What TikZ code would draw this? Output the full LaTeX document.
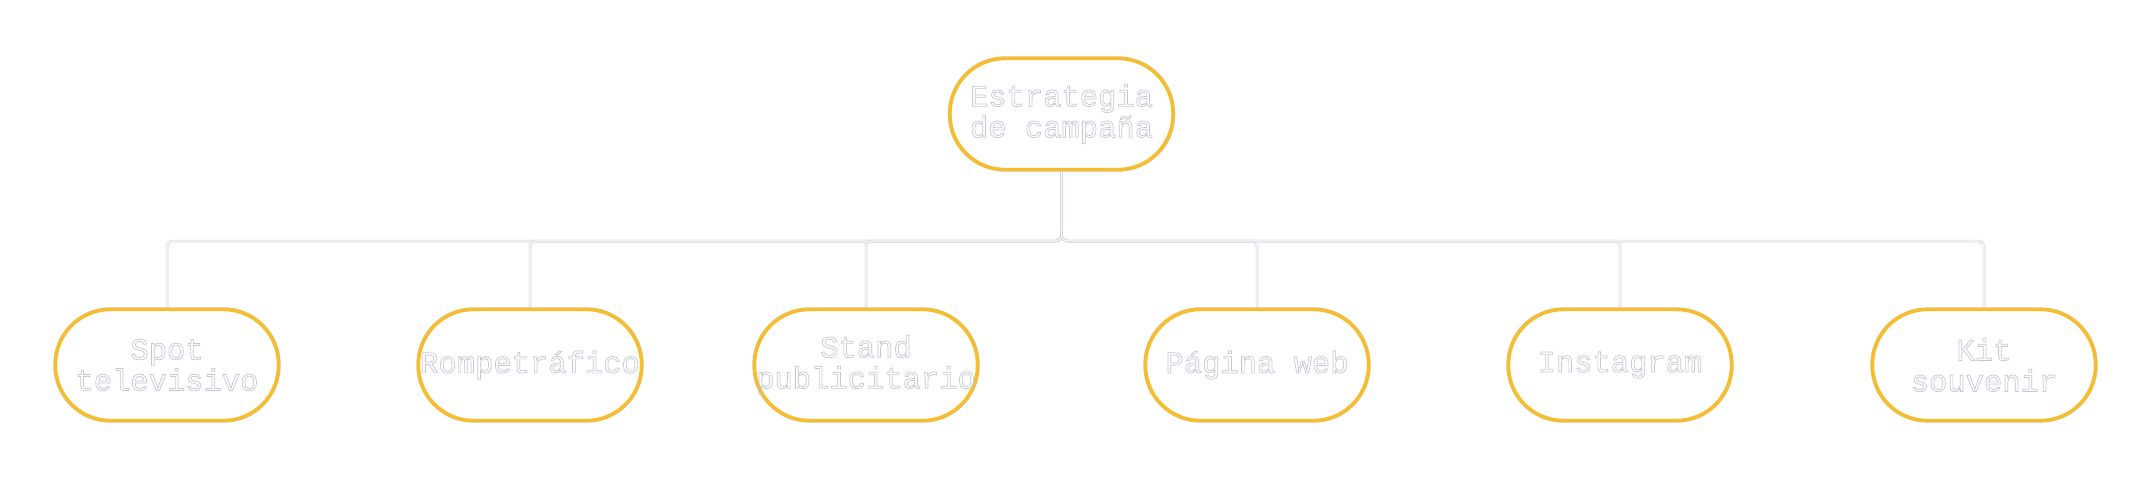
\documentclass[tikz,border=0pt]{standalone}
\usepackage{fontspec}
\usetikzlibrary{backgrounds}
\newfontfamily\boxmono{Liberation Mono}
\definecolor{gold}{HTML}{F6BE2E}
\definecolor{goldedge}{HTML}{D9C38C}
\definecolor{linegray}{HTML}{CDD1DA}
\definecolor{txtgray}{HTML}{C2C7D2}
\newcommand{\outlinetext}[1]{\special{pdf:literal 1 Tr 0.7 w}#1\special{pdf:literal 0 Tr}}
\tikzset{
  pill/.style={draw=gold, line width=3.4pt, fill=white, rounded corners=55pt,
    preaction={draw=goldedge, line width=4.4pt},
    minimum width=223pt, minimum height=111pt, inner sep=0pt, align=center,
    text=txtgray, font=\boxmono\fontsize{30.5}{31}\selectfont},
  conn/.style={draw=linegray, line width=0.7pt, double=white, double distance=1.1pt, rounded corners=6pt}
}
\begin{document}
\begin{tikzpicture}[x=1pt,y=-1pt]
\useasboundingbox (0,0) rectangle (2151,480);
\coordinate (bus) at (1062,241);
\node[pill] (root) at (1061.5,114) {\outlinetext{Estrategia}\\\outlinetext{de campaña}};
\node[pill] (c1) at (167,365) {\outlinetext{Spot}\\\outlinetext{televisivo}};
\node[pill] (c2) at (530,365) {\outlinetext{Rompetráfico}};
\node[pill] (c3) at (866,365) {\outlinetext{Stand}\\\outlinetext{publicitario}};
\node[pill] (c4) at (1257,365) {\outlinetext{Página web}};
\node[pill] (c5) at (1620,365) {\outlinetext{Instagram}};
\node[pill] (c6) at (1984,365) {\outlinetext{Kit}\\\outlinetext{souvenir}};
\begin{pgfonlayer}{background}
\foreach \c in {c1,c2,c3,c4,c5,c6}{
  \draw[conn] (root.south) -- (root.south |- bus) -| (\c.north);
}
\end{pgfonlayer}
\end{tikzpicture}
\end{document}
